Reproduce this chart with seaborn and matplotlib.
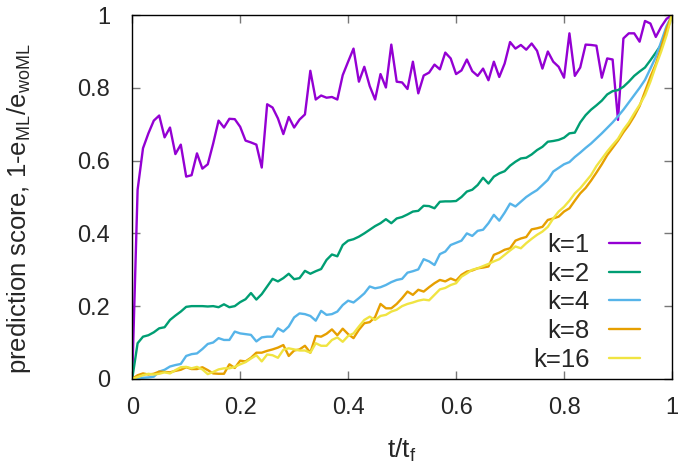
import numpy as np
import pandas as pd
import seaborn as sns
import matplotlib
matplotlib.use("Agg")
import matplotlib.pyplot as plt
from matplotlib.ticker import FuncFormatter

# time axis, t/t_f sampled every 0.01
t = np.round(np.arange(0, 101) * 0.01, 2)

k1 = [0.0, 0.52, 0.634, 0.675, 0.71, 0.724, 0.664, 0.691, 0.618, 0.644,
      0.556, 0.56, 0.62, 0.578, 0.59, 0.647, 0.71, 0.691, 0.715, 0.714,
      0.693, 0.655, 0.65, 0.644, 0.581, 0.755, 0.746, 0.716, 0.673, 0.72,
      0.691, 0.713, 0.727, 0.847, 0.768, 0.779, 0.773, 0.775, 0.768, 0.835,
      0.872, 0.908, 0.817, 0.858, 0.805, 0.768, 0.838, 0.801, 0.919, 0.817,
      0.815, 0.797, 0.872, 0.785, 0.834, 0.842, 0.864, 0.851, 0.897, 0.881,
      0.838, 0.848, 0.878, 0.846, 0.833, 0.853, 0.821, 0.872, 0.83, 0.867,
      0.926, 0.908, 0.918, 0.905, 0.922, 0.902, 0.853, 0.9, 0.872, 0.858,
      0.828, 0.95, 0.833, 0.856, 0.919, 0.918, 0.916, 0.828, 0.881, 0.878,
      0.712, 0.936, 0.95, 0.95, 0.927, 0.984, 0.977, 0.94, 0.968, 0.99, 1.0]

k2 = [0.0, 0.098, 0.116, 0.12, 0.128, 0.139, 0.142, 0.162, 0.174, 0.185,
      0.198, 0.2, 0.2, 0.2, 0.199, 0.2, 0.197, 0.205, 0.197, 0.2,
      0.211, 0.219, 0.236, 0.218, 0.233, 0.254, 0.275, 0.268, 0.277, 0.289,
      0.274, 0.277, 0.297, 0.289, 0.296, 0.302, 0.327, 0.342, 0.337, 0.368,
      0.38, 0.384, 0.391, 0.4, 0.41, 0.42, 0.428, 0.439, 0.428, 0.441,
      0.445, 0.452, 0.46, 0.462, 0.476, 0.475, 0.469, 0.487, 0.488, 0.488,
      0.489, 0.5, 0.515, 0.52, 0.533, 0.553, 0.537, 0.556, 0.565, 0.571,
      0.586, 0.597, 0.606, 0.608, 0.617, 0.629, 0.638, 0.652, 0.654, 0.657,
      0.663, 0.675, 0.677, 0.705, 0.725, 0.74, 0.752, 0.765, 0.782, 0.791,
      0.794, 0.803, 0.817, 0.833, 0.845, 0.856, 0.876, 0.897, 0.919, 0.954, 1.0]

k4 = [0.0, 0.0, 0.003, 0.004, 0.006, 0.02, 0.025, 0.034, 0.038, 0.041,
      0.063, 0.068, 0.07, 0.082, 0.096, 0.1, 0.112, 0.107, 0.107, 0.13,
      0.125, 0.123, 0.121, 0.103, 0.114, 0.116, 0.116, 0.139, 0.13, 0.144,
      0.169, 0.18, 0.178, 0.173, 0.16, 0.187, 0.176, 0.178, 0.185, 0.203,
      0.215, 0.21, 0.222, 0.235, 0.254, 0.249, 0.252, 0.258, 0.266, 0.272,
      0.275, 0.292, 0.296, 0.301, 0.329, 0.323, 0.313, 0.343, 0.35, 0.368,
      0.374, 0.38, 0.4, 0.393, 0.407, 0.41, 0.428, 0.451, 0.435, 0.457,
      0.482, 0.474, 0.487, 0.5, 0.51, 0.519, 0.533, 0.547, 0.57, 0.58,
      0.59, 0.596, 0.61, 0.622, 0.635, 0.647, 0.661, 0.675, 0.69, 0.705,
      0.722, 0.74, 0.76, 0.78, 0.8, 0.822, 0.853, 0.885, 0.927, 0.97, 1.0]

k8 = [0.0, 0.01, 0.015, 0.012, 0.014, 0.02, 0.019, 0.018, 0.022, 0.025,
      0.032, 0.027, 0.027, 0.032, 0.024, 0.015, 0.014, 0.014, 0.04, 0.03,
      0.05, 0.048, 0.058, 0.072, 0.072, 0.077, 0.081, 0.086, 0.093, 0.063,
      0.078, 0.081, 0.091, 0.072, 0.118, 0.116, 0.124, 0.136, 0.12, 0.138,
      0.123, 0.112, 0.135, 0.153, 0.156, 0.17, 0.206, 0.194, 0.194, 0.206,
      0.222, 0.24, 0.231, 0.245, 0.24, 0.252, 0.263, 0.272, 0.268, 0.276,
      0.27, 0.286, 0.295, 0.298, 0.304, 0.306, 0.309, 0.341, 0.347, 0.355,
      0.359, 0.38, 0.386, 0.39, 0.411, 0.414, 0.418, 0.437, 0.441, 0.446,
      0.46, 0.469, 0.49, 0.51, 0.525, 0.545, 0.567, 0.59, 0.615, 0.635,
      0.655, 0.678, 0.698, 0.722, 0.75, 0.79, 0.83, 0.865, 0.91, 0.963, 1.0]

k16 = [0.0, 0.005, 0.01, 0.014, 0.012, 0.014, 0.018, 0.015, 0.024, 0.032,
       0.033, 0.029, 0.033, 0.026, 0.013, 0.019, 0.026, 0.029, 0.029, 0.033,
       0.04, 0.046, 0.056, 0.065, 0.048, 0.067, 0.065, 0.058, 0.08, 0.084,
       0.081, 0.078, 0.078, 0.072, 0.098, 0.091, 0.091, 0.107, 0.114, 0.102,
       0.118, 0.125, 0.144, 0.162, 0.171, 0.162, 0.173, 0.176, 0.185, 0.19,
       0.2, 0.206, 0.21, 0.215, 0.218, 0.216, 0.231, 0.246, 0.25, 0.258,
       0.263, 0.281, 0.29, 0.3, 0.304, 0.31, 0.316, 0.323, 0.329, 0.341,
       0.353, 0.364, 0.359, 0.373, 0.385, 0.396, 0.405, 0.418, 0.441, 0.46,
       0.473, 0.49, 0.51, 0.524, 0.542, 0.56, 0.585, 0.605, 0.625, 0.643,
       0.66, 0.685, 0.705, 0.73, 0.753, 0.78, 0.817, 0.86, 0.9, 0.945, 1.0]

labels = ["k=1", "k=2", "k=4", "k=8", "k=16"]
colors = ["#9400d3", "#009e73", "#56b4e9", "#e69f00", "#f0e442"]
ticks = [0, 0.2, 0.4, 0.6, 0.8, 1]

frames = []
for lab, vals in zip(labels, [k1, k2, k4, k8, k16]):
    frames.append(pd.DataFrame({"t": t, "score": vals, "k": lab}))
df = pd.concat(frames, ignore_index=True)

sns.set_style("ticks")
plt.rcParams["font.family"] = ["Liberation Sans", "DejaVu Sans"]
plt.rcParams["mathtext.fontset"] = "custom"
plt.rcParams["mathtext.rm"] = "Liberation Sans"
plt.rcParams["mathtext.it"] = "Liberation Sans:italic"

fig, ax = plt.subplots(figsize=(6.85, 4.73), dpi=100)
fig.subplots_adjust(left=0.193, right=0.981, top=0.968, bottom=0.199)

sns.lineplot(data=df, x="t", y="score", hue="k", hue_order=labels,
             palette=colors, linewidth=1.7, ax=ax, sort=False)

ax.set_xlim(0, 1)
ax.set_ylim(0, 1)
ax.set_xticks(ticks)
ax.set_yticks(ticks)
fmt = FuncFormatter(lambda v, p: "%g" % v)
ax.xaxis.set_major_formatter(fmt)
ax.yaxis.set_major_formatter(fmt)
ax.tick_params(direction="in", top=True, right=True, length=6, width=1,
               color="#777777", labelsize=17)
ax.tick_params(axis="x", pad=13)
ax.tick_params(axis="y", pad=16)
for sp in ax.spines.values():
    sp.set_linewidth(1.0)
    sp.set_color("black")

ax.set_xlabel(r"t/t$_\mathrm{f}$", fontsize=19)
ax.set_ylabel(r"prediction score, 1-e$_\mathrm{ML}$/e$_\mathrm{woML}$", fontsize=18.5)
ax.xaxis.set_label_coords(0.5, -0.16)
ax.yaxis.set_label_coords(-0.183, 0.468)

handles, labs = ax.get_legend_handles_labels()
ax.legend(handles, labs, loc="lower right", bbox_to_anchor=(0.94, 0.02),
          frameon=False, markerfirst=False, fontsize=18.5, labelspacing=0.18,
          handlelength=1.2, handletextpad=0.75, borderpad=0, borderaxespad=0)

fig.savefig("out.png", dpi=100)
